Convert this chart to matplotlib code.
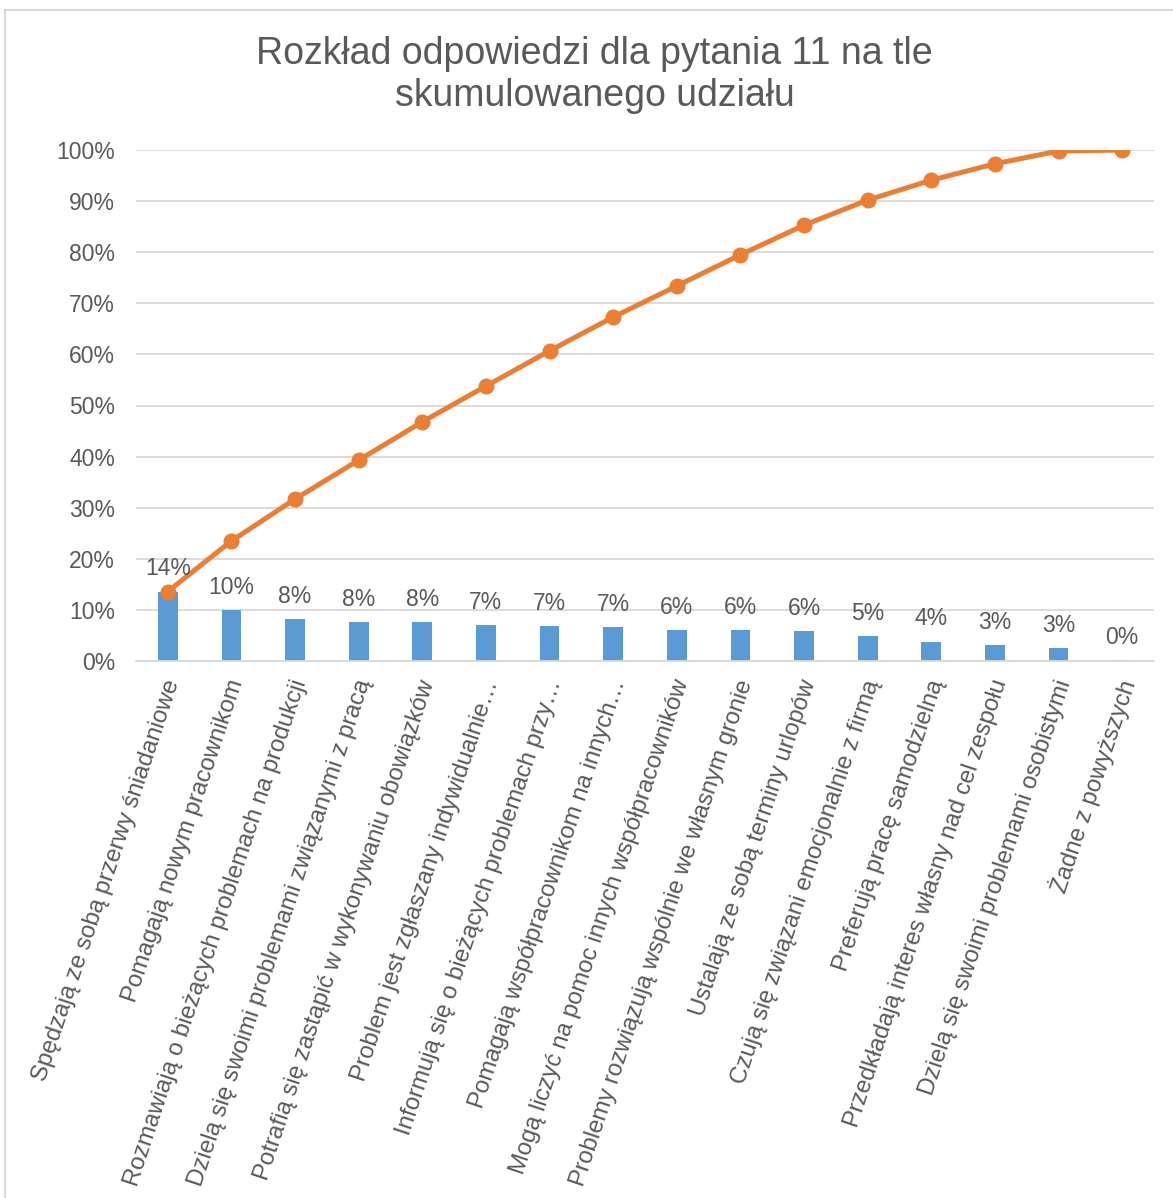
import numpy as np
import matplotlib.pyplot as plt
from matplotlib.patches import Rectangle
from matplotlib.ticker import PercentFormatter
from matplotlib.transforms import ScaledTranslation

categories = [
    "Spędzają ze sobą przerwy śniadaniowe",
    "Pomagają nowym pracownikom",
    "Rozmawiają o bieżących problemach na produkcji",
    "Dzielą się swoimi problemami związanymi z pracą",
    "Potrafią się zastąpić w wykonywaniu obowiązków",
    "Problem jest zgłaszany indywidualnie…",
    "Informują się o bieżących problemach przy…",
    "Pomagają współpracownikom na innych…",
    "Mogą liczyć na pomoc innych współpracowników",
    "Problemy rozwiązują wspólnie we własnym gronie",
    "Ustalają ze sobą terminy urlopów",
    "Czują się związani emocjonalnie z firmą",
    "Preferują pracę samodzielną",
    "Przedkładają interes własny nad cel zespołu",
    "Dzielą się swoimi problemami osobistymi",
    "Żadne z powyższych",
]
# udział odpowiedzi [%]
shares = [13.6, 10.0, 8.2, 7.6, 7.6, 7.0, 6.9, 6.6, 6.1, 6.0, 5.8, 4.9, 3.8, 3.2, 2.6, 0.2]
# udział skumulowany [%]
cumulative = [13.6, 23.5, 31.7, 39.3, 46.8, 53.8, 60.7, 67.3, 73.4, 79.5, 85.3, 90.2, 94.1, 97.3, 99.8, 100.0]

plt.rcParams['font.family'] = ['Liberation Sans', 'DejaVu Sans']
txt = '#595959'
fs = 16.5

fig = plt.figure(figsize=(11.73, 11.98), dpi=100)
fig.patches.append(Rectangle((5 / 1173, -0.1), 1.2, 1 - 10 / 1198 + 0.1,
                             transform=fig.transFigure, fill=False,
                             edgecolor='#D9D9D9', linewidth=1.5))

ax = fig.add_axes([136 / 1173, 1 - 661 / 1198, 1018 / 1173, 511 / 1198])
x = np.arange(len(categories))

ax.bar(x, shares, width=0.31, color='#5B9BD5', zorder=2)
ax.plot(x, cumulative, color='#ED7D31', linewidth=3.6, marker='o',
        markersize=10.5, zorder=3)

for xi, v in zip(x, shares):
    ax.annotate(f"{v:.0f}%", (xi, v), xytext=(0, 8), textcoords='offset points',
                ha='center', va='bottom', fontsize=fs, color=txt, zorder=4)

ax.set_xlim(-0.5, len(categories) - 0.5)
ax.set_ylim(0, 100)
ax.set_yticks(np.arange(0, 101, 10))
ax.yaxis.set_major_formatter(PercentFormatter(decimals=0))
ax.grid(axis='y', color='#D9D9D9', linewidth=1.3, zorder=0)
ax.set_axisbelow(True)
for s in ['top', 'right', 'left']:
    ax.spines[s].set_visible(False)
ax.spines['bottom'].set_color('#D9D9D9')
ax.spines['bottom'].set_linewidth(1.3)
ax.tick_params(axis='both', length=0, labelsize=fs, labelcolor=txt)
ax.tick_params(axis='y', pad=15)

ax.set_xticks(x)
ax.set_xticklabels(categories, rotation=71.5, ha='right', va='center',
                   rotation_mode='anchor', fontsize=17.3)
ax.tick_params(axis='x', pad=14)
# lekkie przesunięcie etykiet w prawo
shift = ScaledTranslation(6 / 100, 0, fig.dpi_scale_trans)
for lab in ax.get_xticklabels():
    lab.set_transform(lab.get_transform() + shift)

fig.text(0.507, 1 - 75 / 1198, "Rozkład odpowiedzi dla pytania 11 na tle\nskumulowanego udziału",
         ha='center', va='center', fontsize=27, color=txt, linespacing=1.2)

fig.savefig('out.png', dpi=100)
